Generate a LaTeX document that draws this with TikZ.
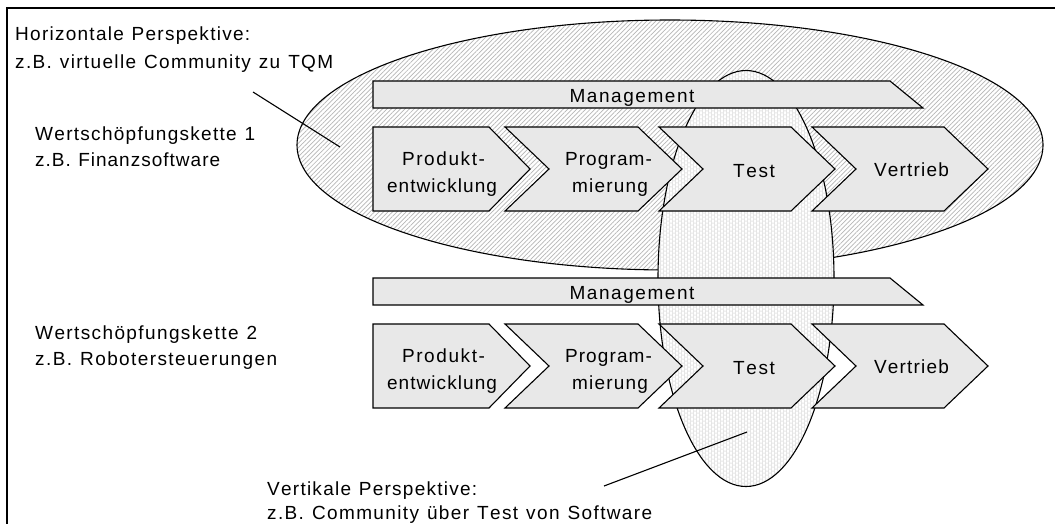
\documentclass[tikz,border=0pt]{standalone}
\usepackage{fontspec}
\newfontfamily\lblfont{Liberation Sans}
\usetikzlibrary{patterns,patterns.meta}

% set a text with its letters spread evenly over a given width
\ExplSyntaxOn
\NewDocumentCommand{\spreadto}{mm}{\makebox[#1][s]{\tl_map_inline:nn{#2}{##1\hfil}\unskip}}
\ExplSyntaxOff

\definecolor{chevfill}{RGB}{232,232,232}
\definecolor{hatchgray}{RGB}{182,182,182}
\definecolor{combgray}{RGB}{218,218,218}

% small honeycomb texture for the vertical community
\pgfdeclarepatternformonly{honeycomb}{\pgfqpoint{-0.5pt}{-0.5pt}}{\pgfqpoint{6.5pt}{4.5pt}}{\pgfqpoint{6pt}{4pt}}{%
  \pgfsetlinewidth{0.5pt}%
  \pgfpathmoveto{\pgfqpoint{0pt}{0pt}}%
  \pgfpathlineto{\pgfqpoint{1pt}{2pt}}%
  \pgfpathlineto{\pgfqpoint{3pt}{2pt}}%
  \pgfpathlineto{\pgfqpoint{4pt}{0pt}}%
  \pgfpathlineto{\pgfqpoint{6pt}{0pt}}%
  \pgfpathmoveto{\pgfqpoint{1pt}{2pt}}%
  \pgfpathlineto{\pgfqpoint{0pt}{4pt}}%
  \pgfpathmoveto{\pgfqpoint{3pt}{2pt}}%
  \pgfpathlineto{\pgfqpoint{4pt}{4pt}}%
  \pgfusepath{stroke}}

\begin{document}
\begin{tikzpicture}[x=1pt,y=-1pt,
  txt/.style={font={\lblfont\fontsize{19}{22}\selectfont}, inner sep=0pt, text=black},
  lbl/.style={txt, anchor=base west},
  ctext/.style={txt, anchor=base},
  chev/.style={draw=black, line width=1.1pt, fill=chevfill, line join=miter},
  outline/.style={draw=black, line width=1.1pt},
  leader/.style={draw=black, line width=1.1pt},
  frameline/.style={draw=black, line width=1.6pt}]

\useasboundingbox (0,0) rectangle (1055,523);
\clip (0,0) rectangle (1055,523);

% outer frame (only left and top edges fall inside the picture)
\draw[frameline] (7,540) -- (7,8) -- (1070,8);

% horizontal perspective
\fill[white] (670,145) ellipse [x radius=373, y radius=125];
\fill[pattern={Lines[angle=45,distance=3.2pt,line width=0.7pt]}, pattern color=hatchgray]
  (670,145) ellipse [x radius=373, y radius=125];
\draw[outline] (670,145) ellipse [x radius=373, y radius=125];

% vertical perspective
\fill[white] (746,278.5) ellipse [x radius=88, y radius=208];
\fill[pattern=honeycomb, pattern color=combgray] (746,278.5) ellipse [x radius=88, y radius=208];
\draw[outline] (746,278.5) ellipse [x radius=88, y radius=208];

% two value chains
\foreach \dy in {0,197} {
  % management bar
  \draw[chev] (373,81+\dy) -- (890,81+\dy) -- (923,108+\dy) -- (373,108+\dy) -- cycle;
  % process steps
  \draw[chev] (373,127+\dy) -- (489,127+\dy) -- (530,169+\dy) -- (489,211+\dy) -- (373,211+\dy) -- cycle;
  \draw[chev] (505,127+\dy) -- (638,127+\dy) -- (682,169+\dy) -- (638,211+\dy) -- (505,211+\dy) -- (549,169+\dy) -- cycle;
  \draw[chev] (659,127+\dy) -- (791,127+\dy) -- (835,169+\dy) -- (791,211+\dy) -- (659,211+\dy) -- (703,169+\dy) -- cycle;
  \draw[chev] (812,127+\dy) -- (944,127+\dy) -- (988,169+\dy) -- (944,211+\dy) -- (812,211+\dy) -- (856,169+\dy) -- cycle;
}

% labels of chain 1
\node[ctext] (mgmtA) at (632,102) {\spreadto{125pt}{Management}};
\node[ctext] (prodA1) at (443.5,165) {\spreadto{83pt}{Produkt-}};
\node[ctext] (prodA2) at (442,192) {\spreadto{110pt}{entwicklung}};
\node[ctext] (progA1) at (608.5,165) {\spreadto{87pt}{Program-}};
\node[ctext] (progA2) at (610,192) {\spreadto{76pt}{mierung}};
\node[ctext] (testA) at (754,177) {\spreadto{42pt}{Test}};
\node[ctext] (vertA) at (911.5,176) {\spreadto{75pt}{Vertrieb}};

% labels of chain 2
\node[ctext] (mgmtB) at (632,299) {\spreadto{125pt}{Management}};
\node[ctext] (prodB1) at (443.5,362) {\spreadto{83pt}{Produkt-}};
\node[ctext] (prodB2) at (442,389) {\spreadto{110pt}{entwicklung}};
\node[ctext] (progB1) at (608.5,362) {\spreadto{87pt}{Program-}};
\node[ctext] (progB2) at (610,389) {\spreadto{76pt}{mierung}};
\node[ctext] (testB) at (754,374) {\spreadto{42pt}{Test}};
\node[ctext] (vertB) at (911.5,373) {\spreadto{75pt}{Vertrieb}};

% side captions
\node[lbl] (horiz1) at (15,40) {\spreadto{235pt}{Horizontale~Perspektive:}};
\node[lbl] (horiz2) at (15,68) {\spreadto{318pt}{z.B.~virtuelle~Community~zu~TQM}};
\node[lbl] (chainA1) at (35,140) {\spreadto{220pt}{Wertschöpfungskette~1}};
\node[lbl] (chainA2) at (35,166) {\spreadto{185pt}{z.B.~Finanzsoftware}};
\node[lbl] (chainB1) at (35,339) {\spreadto{222pt}{Wertschöpfungskette~2}};
\node[lbl] (chainB2) at (35,365) {\spreadto{242pt}{z.B.~Robotersteuerungen}};
\node[lbl] (vert1) at (267,495) {\spreadto{210pt}{Vertikale~Perspektive:}};
\node[lbl] (vert2) at (267,519) {\spreadto{385pt}{z.B.~Community~über~Test~von~Software}};

% leader lines
\coordinate (horizFrom) at (253,92);
\coordinate (horizTo) at (340,147);
\coordinate (vertFrom) at (604,486);
\coordinate (vertTo) at (747,432);
\draw[leader] (horizFrom) -- (horizTo);
\draw[leader] (vertFrom) -- (vertTo);
\end{tikzpicture}
\end{document}
